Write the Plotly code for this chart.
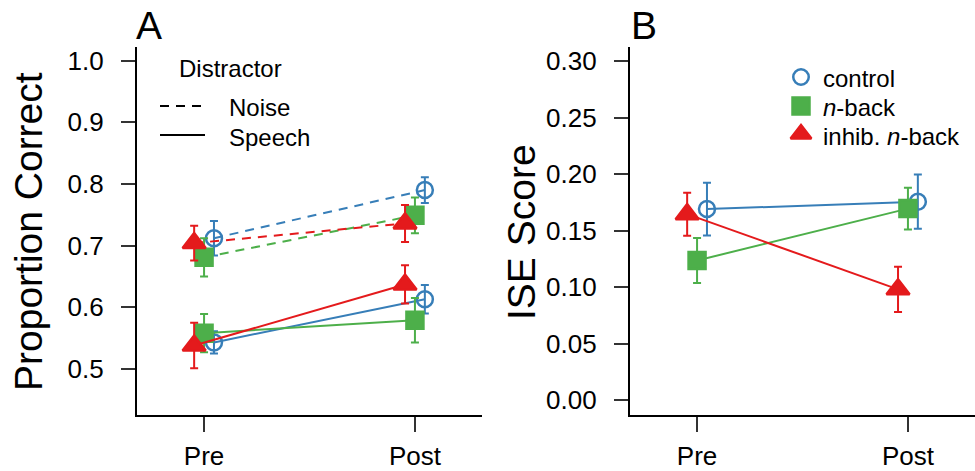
import plotly.graph_objects as go

# ---------------- data ----------------
time_labels = ["Pre", "Post"]
time_pos = [1, 2]

group_names = ["control", "<i>n</i>-back", "inhib. <i>n</i>-back"]
group_offsets = [0.047, 0.0, -0.047]
group_colors = ["#377EB8", "#4DAF4A", "#E41A1C"]
group_symbols = ["circle-open", "square", "triangle-up"]
group_sizes = [16, 17, 20]

distractor_names = ["Noise", "Speech"]
distractor_dash = ["9px,7px", "solid"]

# Panel A: proportion correct (Pre, Post)
noise_control = [0.712, 0.790]
noise_nback = [0.681, 0.749]
noise_inhib = [0.704, 0.736]
noise_control_err = [0.028, 0.021]
noise_nback_err = [0.031, 0.029]
noise_inhib_err = [0.028, 0.030]

speech_control = [0.543, 0.613]
speech_nback = [0.558, 0.579]
speech_inhib = [0.538, 0.637]
speech_control_err = [0.018, 0.023]
speech_nback_err = [0.031, 0.036]
speech_inhib_err = [0.037, 0.031]

# Panel B: ISE score (Pre, Post)
ise_control = [0.169, 0.1755]
ise_nback = [0.1235, 0.1694]
ise_inhib = [0.1645, 0.098]
ise_control_err = [0.0234, 0.024]
ise_nback_err = [0.020, 0.0185]
ise_inhib_err = [0.019, 0.020]

yticks_a = [0.5, 0.6, 0.7, 0.8, 0.9, 1.0]
yticklabels_a = ["0.5", "0.6", "0.7", "0.8", "0.9", "1.0"]
yticks_b = [0.00, 0.05, 0.10, 0.15, 0.20, 0.25, 0.30]
yticklabels_b = ["0.00", "0.05", "0.10", "0.15", "0.20", "0.25", "0.30"]

panel_titles = ["A", "B"]
ylabels = ["Proportion Correct", "ISE Score"]
legend_a_title = "Distractor"

# ---------------- figure ----------------
W, H = 975, 471
FONT = "Liberation Sans, Arial, sans-serif"
TICK_FS = 26
LEG_FS = 24
TITLE_FS = 39


def fx(p):
    return p / W


def fy(p):
    return 1 - p / H


fig = go.Figure()

panel_a = [
    (noise_control, noise_control_err, noise_nback, noise_nback_err, noise_inhib, noise_inhib_err),
    (speech_control, speech_control_err, speech_nback, speech_nback_err, speech_inhib, speech_inhib_err),
]

for d_idx, series in enumerate(panel_a):
    vals = [series[0], series[2], series[4]]
    errs = [series[1], series[3], series[5]]
    for g in range(3):
        fig.add_trace(go.Scatter(
            x=[t + group_offsets[g] for t in time_pos],
            y=vals[g],
            mode="lines+markers",
            line=dict(color=group_colors[g], width=2, dash=distractor_dash[d_idx]),
            marker=dict(symbol=group_symbols[g], size=group_sizes[g], color=group_colors[g],
                        line=dict(width=2.5, color=group_colors[g])),
            error_y=dict(type="data", array=errs[g], visible=True, color=group_colors[g],
                         thickness=2, width=4),
            xaxis="x", yaxis="y", showlegend=False,
        ))

ise_vals = [ise_control, ise_nback, ise_inhib]
ise_errs = [ise_control_err, ise_nback_err, ise_inhib_err]
for g in range(3):
    fig.add_trace(go.Scatter(
        x=[t + group_offsets[g] for t in time_pos],
        y=ise_vals[g],
        mode="lines+markers",
        line=dict(color=group_colors[g], width=2),
        marker=dict(symbol=group_symbols[g], size=group_sizes[g], color=group_colors[g],
                    line=dict(width=2.5, color=group_colors[g])),
        error_y=dict(type="data", array=ise_errs[g], visible=True, color=group_colors[g],
                     thickness=2, width=4),
        xaxis="x2", yaxis="y2", showlegend=False,
    ))

# ---------------- hand-drawn legends (overlay in pixel space) ----------------
leg_a_line_x = [160, 205]
leg_a_row_y = [106, 135]
leg_a_text_y = [108, 138]
leg_a_text_x = 227
leg_a_title_xy = (177, 69)

leg_b_key_x = 801
leg_b_key_y = [77, 106, 134]
leg_b_text_y = [79, 108, 137]
leg_b_text_x = 821
leg_b_sizes = [15.5, 17, 18]

for d_idx in range(2):
    fig.add_trace(go.Scatter(
        x=leg_a_line_x, y=[leg_a_row_y[d_idx]] * 2, mode="lines",
        line=dict(color="black", width=2, dash=distractor_dash[d_idx]),
        xaxis="x3", yaxis="y3", showlegend=False, hoverinfo="skip",
    ))
    fig.add_annotation(
        text=distractor_names[d_idx], xref="paper", yref="paper",
        x=fx(leg_a_text_x), y=fy(leg_a_text_y[d_idx]), xanchor="left", yanchor="middle",
        showarrow=False, font=dict(family=FONT, size=LEG_FS, color="black"),
    )
fig.add_annotation(
    text=legend_a_title, xref="paper", yref="paper",
    x=fx(leg_a_title_xy[0]), y=fy(leg_a_title_xy[1]), xanchor="left", yanchor="middle",
    showarrow=False, font=dict(family=FONT, size=LEG_FS, color="black"),
)

for g in range(3):
    fig.add_trace(go.Scatter(
        x=[leg_b_key_x], y=[leg_b_key_y[g]], mode="markers",
        marker=dict(symbol=group_symbols[g], size=leg_b_sizes[g], color=group_colors[g],
                    line=dict(width=2.5, color=group_colors[g])),
        xaxis="x3", yaxis="y3", showlegend=False, hoverinfo="skip",
    ))
    fig.add_annotation(
        text=group_names[g], xref="paper", yref="paper",
        x=fx(leg_b_text_x), y=fy(leg_b_text_y[g]), xanchor="left", yanchor="middle",
        showarrow=False, font=dict(family=FONT, size=LEG_FS, color="black"),
    )

xcommon = dict(
    range=[0.682, 2.318], tickvals=time_pos, ticktext=time_labels,
    ticks="outside", ticklen=15, tickwidth=1.5, tickcolor="#333",
    showline=True, linewidth=2.2, linecolor="black",
    showgrid=False, zeroline=False, automargin=False,
    tickfont=dict(family=FONT, size=TICK_FS, color="black"),
    ticklabelstandoff=2, fixedrange=True,
)
ycommon = dict(
    ticks="outside", ticklen=14, tickwidth=1.5, tickcolor="#333",
    showline=True, linewidth=2.2, linecolor="black",
    showgrid=False, zeroline=False, automargin=False,
    tickfont=dict(family=FONT, size=TICK_FS, color="black"),
    ticklabelstandoff=12, fixedrange=True,
)

fig.update_layout(
    width=W, height=H,
    margin=dict(l=0, r=0, t=0, b=0, autoexpand=False),
    paper_bgcolor="white", plot_bgcolor="rgba(0,0,0,0)",
    font=dict(family=FONT, color="black"),
    showlegend=False,
    xaxis=dict(domain=[fx(137), fx(482)], anchor="y", **xcommon),
    yaxis=dict(domain=[fy(415), fy(47)], anchor="x", range=[0.4253, 1.022],
               tickvals=yticks_a, ticktext=yticklabels_a, **ycommon),
    xaxis2=dict(domain=[fx(630), 1.0], anchor="y2", **xcommon),
    yaxis2=dict(domain=[fy(415), fy(47)], anchor="x2", range=[-0.0132, 0.3124],
                tickvals=yticks_b, ticktext=yticklabels_b, **ycommon),
    xaxis3=dict(domain=[0, 1], range=[0, W], visible=False, fixedrange=True, anchor="y3",
                automargin=False),
    yaxis3=dict(domain=[0, 1], range=[H, 0], visible=False, fixedrange=True, anchor="x3",
                automargin=False),
)

# panel letters and y-axis titles
for ax_x, letter in [(137, panel_titles[0]), (632, panel_titles[1])]:
    fig.add_annotation(
        text=letter, xref="paper", yref="paper", x=fx(ax_x - 3), y=fy(2),
        xanchor="left", yanchor="top", showarrow=False,
        font=dict(family=FONT, size=TITLE_FS, color="black"),
    )
for ax_x, lab in [(137, ylabels[0]), (630, ylabels[1])]:
    fig.add_annotation(
        text=lab, xref="paper", yref="paper", x=fx(ax_x - 109), y=fy(232),
        xanchor="center", yanchor="middle", textangle=-90, showarrow=False,
        font=dict(family=FONT, size=TITLE_FS, color="black"),
    )

fig.write_html("out.html")
